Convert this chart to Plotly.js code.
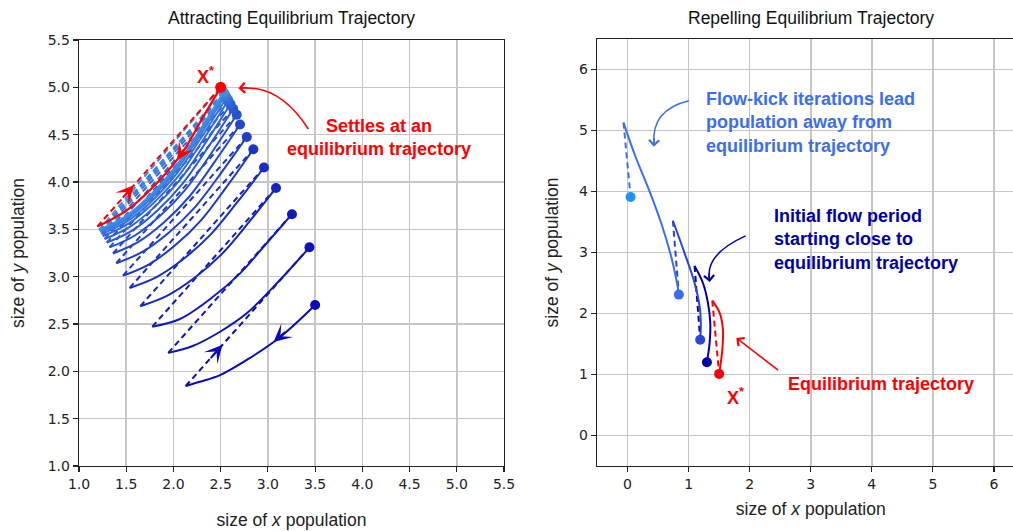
<!DOCTYPE html>
<html><head><meta charset="utf-8">
<script src="https://cdn.plot.ly/plotly-3.0.1.min.js"></script>
<style>html,body{margin:0;padding:0;overflow:hidden;background:#fff}#chart{width:1030px;height:531px}</style>
</head><body><div id="chart"></div>
<script>
// ---------- LEFT PANEL (attracting) : flow-kick iterations ----------
const flowStartX = [3.50, 3.44, 3.255, 3.086, 2.959, 2.846, 2.776, 2.705, 2.67, 2.633, 2.604, 2.581, 2.563, 2.549, 2.538, 2.53];
const flowStartY = [2.70, 3.31, 3.66, 3.937, 4.153, 4.346, 4.476, 4.607, 4.71, 4.774, 4.824, 4.863, 4.893, 4.916, 4.935, 4.949];
const flowQ1X = [3.128, 3.128, 2.987, 2.799, 2.674, 2.57, 2.50, 2.436, 2.401, 2.365, 2.337, 2.315, 2.298, 2.285, 2.274, 2.266];
const flowQ1Y = [2.36, 2.965, 3.353, 3.575, 3.784, 3.959, 4.089, 4.212, 4.304, 4.364, 4.41, 4.447, 4.475, 4.497, 4.514, 4.527];
const flowQ2X = [2.776, 2.776, 2.705, 2.511, 2.39, 2.294, 2.224, 2.167, 2.131, 2.097, 2.071, 2.05, 2.033, 2.02, 2.011, 2.003];
const flowQ2Y = [2.12, 2.613, 3.035, 3.238, 3.441, 3.598, 3.729, 3.844, 3.925, 3.982, 4.025, 4.059, 4.086, 4.106, 4.122, 4.135];
const flowQ3X = [2.493, 2.493, 2.422, 2.224, 2.105, 2.018, 1.947, 1.898, 1.862, 1.83, 1.804, 1.784, 1.769, 1.756, 1.747, 1.739];
const flowQ3Y = [1.96, 2.418, 2.79, 2.988, 3.186, 3.331, 3.462, 3.572, 3.645, 3.699, 3.74, 3.772, 3.797, 3.817, 3.832, 3.844];
const flowQ4X = [2.28, 2.21, 2.069, 1.936, 1.821, 1.742, 1.671, 1.629, 1.592, 1.562, 1.538, 1.519, 1.504, 1.492, 1.484, 1.476];
const flowQ4Y = [1.89, 2.27, 2.553, 2.80, 2.995, 3.131, 3.262, 3.368, 3.435, 3.486, 3.526, 3.557, 3.581, 3.60, 3.615, 3.626];
const flowEndX = [2.13, 1.945, 1.776, 1.649, 1.536, 1.466, 1.395, 1.36, 1.323, 1.294, 1.271, 1.253, 1.239, 1.228, 1.22, 1.212];
const flowEndY = [1.845, 2.195, 2.472, 2.688, 2.881, 3.011, 3.142, 3.245, 3.309, 3.359, 3.398, 3.428, 3.451, 3.47, 3.484, 3.495];
// equilibrium trajectory (left)
const eqLeftX = [2.5, 2.316, 2.087, 1.787, 1.505, 1.195];
const eqLeftY = [5.0, 4.69, 4.30, 3.95, 3.70, 3.53];

// ---------- RIGHT PANEL (repelling) ----------
const repDarkX = [1.30, 1.344, 1.355, 1.317, 1.235, 1.098];
const repDarkY = [1.20, 1.517, 1.845, 2.17, 2.50, 2.78];
const repMidX = [1.19, 1.20, 1.18, 1.098, 0.934, 0.743];
const repMidY = [1.57, 1.85, 2.12, 2.50, 2.99, 3.52];
const repLightX = [0.84, 0.81, 0.716, 0.552, 0.35, 0.131, -0.066];
const repLightY = [2.31, 2.50, 2.93, 3.48, 4.03, 4.57, 5.13];
const repFinalX = [0.05];
const repFinalY = [3.91];
const eqRightX = [1.50, 1.552, 1.562, 1.508, 1.388];
const eqRightY = [1.01, 1.41, 1.735, 2.01, 2.21];

const leftTicks = [1.0, 1.5, 2.0, 2.5, 3.0, 3.5, 4.0, 4.5, 5.0, 5.5];
const rightTicks = [0, 1, 2, 3, 4, 5, 6];

// ---------- styling ----------
const W = 1030, H = 531;
const RED = '#ff0000';
const DARK = '#0000a8', MID = '#2846dc', LIGHT = '#3a6ef2', CYAN = '#1e90ff';
const DASH = '6px,4px';
function iterColor(k, n) {
  const t = n > 1 ? k / (n - 1) : 0;
  const a = [10, 10, 182], b = [62, 140, 232];
  const c = a.map((v, i) => Math.round(v + (b[i] - v) * t));
  return 'rgb(' + c.join(',') + ')';
}
const traces = [];
const n = flowStartX.length;
for (let k = 0; k < n; k++) {
  const c = iterColor(k, n);
  traces.push({
    x: [flowStartX[k], flowQ1X[k], flowQ2X[k], flowQ3X[k], flowQ4X[k], flowEndX[k]],
    y: [flowStartY[k], flowQ1Y[k], flowQ2Y[k], flowQ3Y[k], flowQ4Y[k], flowEndY[k]],
    mode: 'lines', line: {color: c, width: 2, shape: 'spline', smoothing: 1},
    xaxis: 'x', yaxis: 'y', hoverinfo: 'skip'
  });
  const nx = k + 1 < n ? flowStartX[k + 1] : eqLeftX[0];
  const ny = k + 1 < n ? flowStartY[k + 1] : eqLeftY[0];
  traces.push({
    x: [flowEndX[k], nx], y: [flowEndY[k], ny],
    mode: 'lines', line: {color: c, width: 2, dash: DASH},
    xaxis: 'x', yaxis: 'y', hoverinfo: 'skip'
  });
  traces.push({
    x: [flowStartX[k]], y: [flowStartY[k]], mode: 'markers',
    marker: {color: c, size: 10}, xaxis: 'x', yaxis: 'y', hoverinfo: 'skip'
  });
}
// equilibrium (left)
traces.push({x: [eqLeftX[eqLeftX.length - 1], eqLeftX[0]], y: [eqLeftY[eqLeftY.length - 1], eqLeftY[0]],
  mode: 'lines', line: {color: RED, width: 2, dash: DASH}, xaxis: 'x', yaxis: 'y', hoverinfo: 'skip'});
traces.push({x: eqLeftX, y: eqLeftY, mode: 'lines', line: {color: RED, width: 2.2, shape: 'spline', smoothing: 1},
  xaxis: 'x', yaxis: 'y', hoverinfo: 'skip'});
traces.push({x: [eqLeftX[0]], y: [eqLeftY[0]], mode: 'markers', marker: {color: RED, size: 11},
  xaxis: 'x', yaxis: 'y', hoverinfo: 'skip'});

// right panel
function rflow(xs, ys, color) {
  traces.push({x: xs, y: ys, mode: 'lines', line: {color: color, width: 2, shape: 'spline', smoothing: 1},
    xaxis: 'x2', yaxis: 'y2', hoverinfo: 'skip'});
}
function rkick(x0, y0, x1, y1, color) {
  traces.push({x: [x0, x1], y: [y0, y1], mode: 'lines', line: {color: color, width: 2, dash: DASH},
    xaxis: 'x2', yaxis: 'y2', hoverinfo: 'skip'});
}
function rdot(x, y, color) {
  traces.push({x: [x], y: [y], mode: 'markers', marker: {color: color, size: 10},
    xaxis: 'x2', yaxis: 'y2', hoverinfo: 'skip'});
}
const last = a => a[a.length - 1];
rflow(repDarkX, repDarkY, DARK);
rkick(last(repDarkX), last(repDarkY), repMidX[0], repMidY[0], DARK);
rdot(repDarkX[0], repDarkY[0], DARK);
rflow(repMidX, repMidY, MID);
rkick(last(repMidX), last(repMidY), repLightX[0], repLightY[0], MID);
rdot(repMidX[0], repMidY[0], MID);
rflow(repLightX, repLightY, LIGHT);
rkick(last(repLightX), last(repLightY), repFinalX[0], repFinalY[0], LIGHT);
rdot(repLightX[0], repLightY[0], LIGHT);
rdot(repFinalX[0], repFinalY[0], CYAN);
rkick(last(eqRightX), last(eqRightY), eqRightX[0], eqRightY[0], RED);
rflow(eqRightX, eqRightY, RED);
rdot(eqRightX[0], eqRightY[0], RED);

const TICKFONT = {family: 'DejaVu Sans', size: 14, color: '#222'};
const LABFONT = {family: 'Liberation Sans, Arial, sans-serif', size: 17.5, color: '#222'};
function axis(extra) {
  return Object.assign({
    showgrid: true, gridcolor: '#c6c6c6', gridwidth: 1.5, zeroline: false,
    showline: true, linecolor: '#222', linewidth: 1.3, mirror: true,
    ticks: 'outside', ticklen: 5, tickwidth: 1.2, tickcolor: '#222', tickfont: TICKFONT,
    fixedrange: true
  }, extra);
}
const ann = [];
const bold = {family: 'Liberation Sans, Arial, sans-serif', size: 18};
const TITLEFONT = {family: 'Liberation Sans, Arial, sans-serif', size: 17.5, color: '#111'};
// subplot titles
ann.push({xref: 'x domain', yref: 'paper', x: 0.5, y: (H - 18) / H, text: 'Attracting Equilibrium Trajectory',
  showarrow: false, xanchor: 'center', yanchor: 'middle', font: TITLEFONT});
ann.push({xref: 'x2 domain', yref: 'paper', x: 0.5, y: (H - 18) / H, text: 'Repelling Equilibrium Trajectory',
  showarrow: false, xanchor: 'center', yanchor: 'middle', font: TITLEFONT});
// left texts
ann.push({xref: 'x', yref: 'y', x: 4.177, y: 4.47, text: '<b>Settles at an<br>equilibrium trajectory</b>',
  showarrow: false, align: 'center', font: Object.assign({color: RED}, bold)});
ann.push({xref: 'x', yref: 'y', x: 2.34, y: 5.12, text: '<b>X<sup>*</sup></b>', showarrow: false,
  font: Object.assign({color: RED}, bold, {size: 18})});
// right texts
ann.push({xref: 'x2', yref: 'y2', x: 1.26, y: 5.128, text: '<b>Flow-kick iterations lead<br>population away from<br>equilibrium trajectory</b>',
  showarrow: false, align: 'left', xanchor: 'left', yanchor: 'middle', font: Object.assign({color: LIGHT}, bold)});
ann.push({xref: 'x2', yref: 'y2', x: 2.36, y: 3.208, text: '<b>Initial flow period<br>starting close to<br>equilibrium trajectory</b>',
  showarrow: false, align: 'left', xanchor: 'left', yanchor: 'middle', font: Object.assign({color: DARK}, bold)});
ann.push({xref: 'x2', yref: 'y2', x: 2.59, y: 0.851, text: '<b>Equilibrium trajectory</b>',
  showarrow: false, align: 'left', xanchor: 'left', yanchor: 'middle', font: Object.assign({color: RED}, bold)});
ann.push({xref: 'x2', yref: 'y2', x: 1.76, y: 0.64, text: '<b>X<sup>*</sup></b>', showarrow: false,
  font: Object.assign({color: RED}, bold)});
// red straight pointer (right)
ann.push({xref: 'x2', yref: 'y2', axref: 'x2', ayref: 'y2', x: 1.782, y: 1.599, ax: 2.49, ay: 1.052,
  text: '', showarrow: true, arrowhead: 4, arrowsize: 1.3, arrowwidth: 1.5, arrowcolor: RED});
// arrowheads at ends of curved pointers
ann.push({xref: 'x', yref: 'y', axref: 'x', ayref: 'y', x: 2.687, y: 4.99, ax: 2.80, ay: 4.998,
  text: '', showarrow: true, arrowhead: 4, arrowsize: 1.3, arrowwidth: 1.5, arrowcolor: RED});
ann.push({xref: 'x2', yref: 'y2', axref: 'x2', ayref: 'y2', x: 0.431, y: 4.735, ax: 0.438, ay: 4.90,
  text: '', showarrow: true, arrowhead: 4, arrowsize: 1.3, arrowwidth: 1.5, arrowcolor: LIGHT});
ann.push({xref: 'x2', yref: 'y2', axref: 'x2', ayref: 'y2', x: 1.344, y: 2.515, ax: 1.33, ay: 2.68,
  text: '', showarrow: true, arrowhead: 4, arrowsize: 1.3, arrowwidth: 1.5, arrowcolor: DARK});
// direction arrows on trajectories (left)
function dirArrow(x, y, ax, ay, color) {
  ann.push({xref: 'x', yref: 'y', axref: 'x', ayref: 'y', x: x, y: y, ax: ax, ay: ay, text: '', showarrow: true,
    arrowhead: 3, arrowsize: 1.5, arrowwidth: 2, arrowcolor: color, standoff: 0});
}
dirArrow(3.06, 2.31, 3.20, 2.43, iterColor(0, n));
dirArrow(2.52, 2.28, 2.38, 2.124, iterColor(0, n));
dirArrow(2.04, 4.23, 2.12, 4.36, RED);
dirArrow(1.58, 3.966, 1.45, 3.82, RED);

const shapes = [
  {type: 'path', xref: 'x', yref: 'y', path: 'M 3.428,4.56 Q 3.128,5.025 2.72,4.992', line: {color: RED, width: 1.5}},
  {type: 'path', xref: 'x2', yref: 'y2', path: 'M 1.005,5.488 Q 0.386,5.34 0.433,4.78', line: {color: LIGHT, width: 1.5}},
  {type: 'path', xref: 'x2', yref: 'y2', path: 'M 1.934,3.273 Q 1.269,2.974 1.342,2.56', line: {color: DARK, width: 1.5}}
];

const layout = {
  width: W, height: H, margin: {l: 0, r: 0, t: 0, b: 0}, showlegend: false,
  paper_bgcolor: '#fff', plot_bgcolor: '#fff',
  xaxis: axis({domain: [79 / W, 504 / W], range: [1, 5.5], tickvals: leftTicks, tickformat: '.1f', anchor: 'y',
    title: {text: 'size of <i>x</i> population', font: LABFONT, standoff: 22}}),
  yaxis: axis({domain: [(H - 466) / H, (H - 40) / H], range: [1, 5.5], tickvals: leftTicks, tickformat: '.1f', anchor: 'x',
    title: {text: 'size of <i>y</i> population', font: LABFONT, standoff: 18}}),
  xaxis2: axis({domain: [597 / W, 1024.5 / W], range: [-0.5, 6.5], tickvals: rightTicks, anchor: 'y2',
    title: {text: 'size of <i>x</i> population', font: LABFONT, standoff: 11}}),
  yaxis2: axis({domain: [(H - 466) / H, (H - 39) / H], range: [-0.5, 6.5], tickvals: rightTicks, anchor: 'x2',
    title: {text: 'size of <i>y</i> population', font: LABFONT, standoff: 16}}),
  annotations: ann, shapes: shapes
};
Plotly.newPlot('chart', traces, layout, {displayModeBar: false, staticPlot: true});
</script></body></html>
